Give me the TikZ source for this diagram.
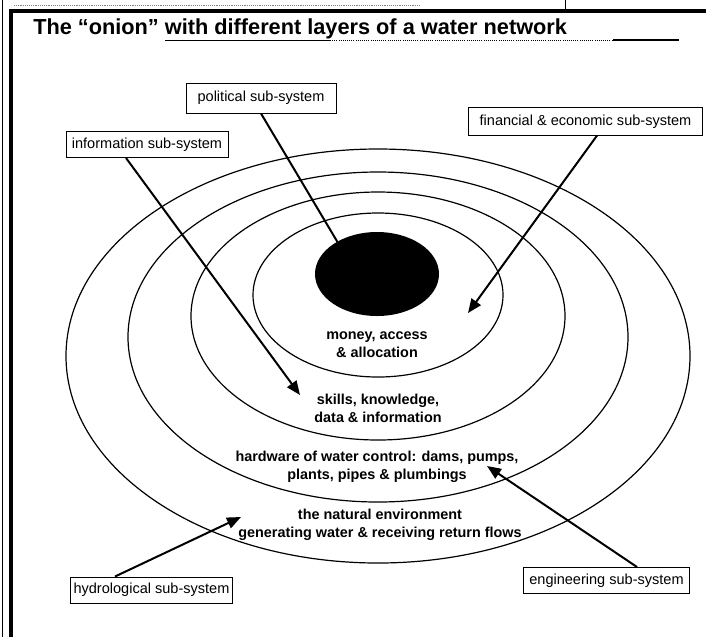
\documentclass[tikz,border=0pt]{standalone}
\usepackage{fontspec}
\setmainfont{Liberation Sans}
\usetikzlibrary{arrows.meta,shapes}

\begin{document}
\begin{tikzpicture}[x=0.75pt,y=-0.75pt,
subsystem/.style={
rectangle,
draw,
line width=0.7pt,
fill=white,
font=\fontsize{10.9}{13}\selectfont,
inner xsep=2pt,
minimum height=19.5pt
},
ring/.style={
ellipse,
draw,
line width=0.9pt,
inner sep=0pt
},
layer/.style={
align=center,
font=\fontsize{10.8}{13.5}\selectfont\bfseries
},
link/.style={
line width=1.5pt,
-{Triangle[length=10.5pt,width=8.5pt]}
}]
\useasboundingbox (0,0) rectangle (706,637);
\draw[line width=0.6pt] (2,0) -- (2,637);
\draw[line width=3pt] (11,637) -- (11,11) -- (706,11);
\draw[line width=0.6pt] (565,0) -- (565,11);
\draw[densely dotted, line width=0.4pt, gray] (14,5) -- (420,5);

\node (title) [anchor=base west, inner sep=0pt, font=\fontsize{16.3}{19}\selectfont\bfseries] at (33,34) {The “onion” with different layers of a water network};
\draw[line width=0.6pt] (165,40) -- (330,40);
\draw[line width=0.6pt, densely dotted] (330,40) -- (613,40);
\draw[line width=0.8pt] (613,40) -- (679,40);

\node (environment) [ring, minimum width=468pt, minimum height=310.5pt] at (378,356) {};
\node (hardwarering) [ring, minimum width=375pt, minimum height=247.5pt] at (378,337) {};
\node (knowledgering) [ring, minimum width=280.5pt, minimum height=186pt] at (378,316) {};
\node (moneyring) [ring, minimum width=187.5pt, minimum height=123pt] at (378,295) {};
\node (core) [ellipse, fill=black, inner sep=0pt, minimum width=93pt, minimum height=63pt] at (377,274) {};

\node (money) [layer] at (377,345) {money, access\\\& allocation};
\node (skills) [layer] at (378,408) {skills, knowledge,\\data \& information};
\node (hardware) [layer] at (377,467) {hardware of water control: dams, pumps,\\plants, pipes \& plumbings};
\node (nature) [layer] at (380,525) {the natural environment\\generating water \& receiving return flows};

\node (political) [subsystem, minimum width=112.5pt, minimum height=22.5pt] at (261,98) {political sub-system};
\node (information) [subsystem, minimum width=121.5pt] at (147,144.5) {information sub-system};
\node (financial) [subsystem, minimum width=176pt, minimum height=20.5pt] at (585.5,121.5) {financial \& economic sub-system};
\node (hydrological) [subsystem, minimum width=122pt] at (151.5,590) {hydrological sub-system};
\node (engineering) [subsystem, minimum width=125pt] at (606.5,580.5) {engineering sub-system};

\coordinate (politicaltip) at (347,258);
\coordinate (informationtip) at (300,395);
\coordinate (financialtip) at (468,313);
\coordinate (hydrologicaltip) at (241,517);
\coordinate (engineeringtip) at (487,466);

\draw[link] (political.south) -- (politicaltip);
\draw[link] ([xshift=-15.75pt]information.south) -- (informationtip);
\draw[link] ([xshift=8.6pt]financial.south) -- (financialtip);
\draw[link] ([xshift=-27.4pt]hydrological.north) -- (hydrologicaltip);
\draw[link] ([xshift=22.9pt]engineering.north) -- (engineeringtip);
\end{tikzpicture}
\end{document}
